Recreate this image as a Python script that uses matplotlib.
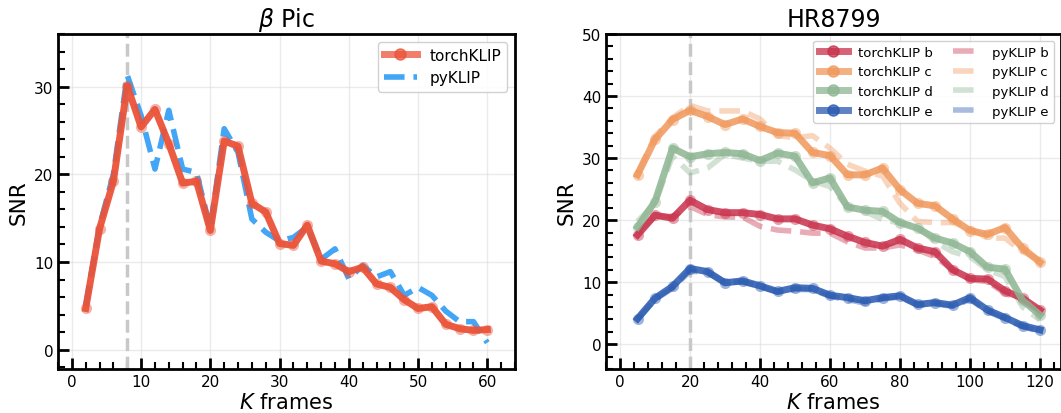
import numpy as np
import matplotlib
matplotlib.use('Agg')
import matplotlib.pyplot as plt
from matplotlib.ticker import AutoMinorLocator

# ==========================================
# DATA
# ==========================================
# beta Pic: K frames 2..60
k_pic = list(range(2, 61, 2))
pic_torch = [4.7, 13.8, 19.2, 30.1, 25.4, 27.4, 23.5, 19.0, 19.2, 13.6,
             23.8, 23.2, 16.7, 15.7, 12.1, 11.9, 14.2, 10.1, 9.8, 8.9,
             9.4, 7.5, 7.1, 5.7, 4.7, 4.9, 2.9, 2.4, 2.2, 2.3]
pic_py = [5.0, 14.1, 20.0, 31.3, 26.7, 20.6, 27.3, 20.6, 20.2, 13.8,
          25.2, 22.5, 14.9, 13.4, 12.4, 12.8, 14.0, 10.3, 11.5, 8.1,
          9.6, 8.3, 8.9, 6.2, 7.1, 6.2, 4.4, 3.2, 3.2, 0.8]

# HR8799: K frames 5..120
k_hr = list(range(5, 121, 5))
torch_b = [17.6, 20.8, 20.3, 23.2, 21.7, 21.2, 21.2, 20.9, 20.2, 20.2, 19.2, 18.6,
           17.4, 16.4, 15.8, 16.9, 15.5, 14.9, 12.0, 10.6, 10.5, 8.6, 7.4, 5.5]
py_b = [17.9, 20.6, 20.6, 22.2, 20.9, 20.5, 20.5, 19.0, 18.4, 18.2, 17.9, 17.9,
        16.5, 15.5, 15.5, 16.0, 15.2, 14.1, 12.0, 10.4, 10.1, 8.2, 7.1, 5.2]
torch_c = [27.3, 33.0, 36.2, 37.7, 36.7, 35.4, 36.3, 35.1, 34.1, 34.0, 30.9, 30.4,
           27.3, 27.3, 28.4, 24.9, 22.7, 22.3, 20.2, 18.3, 17.7, 18.8, 15.5, 13.2]
py_c = [27.6, 33.5, 36.5, 38.5, 37.6, 37.6, 37.6, 36.3, 33.6, 33.3, 33.6, 31.6,
        29.0, 27.9, 27.1, 22.7, 19.8, 19.6, 19.6, 18.7, 17.1, 17.1, 14.9, 13.6]
torch_d = [18.9, 23.0, 31.6, 30.2, 30.7, 30.9, 30.7, 29.6, 30.8, 30.3, 26.0, 26.8,
           22.1, 21.6, 21.4, 19.6, 18.7, 17.1, 16.3, 14.9, 12.4, 12.1, 7.1, 4.7]
py_d = [19.8, 22.7, 30.3, 27.6, 28.4, 30.6, 30.0, 29.5, 29.5, 28.1, 26.3, 25.4,
        22.2, 21.4, 20.1, 19.5, 19.0, 16.5, 14.9, 14.1, 12.0, 10.9, 6.0, 3.9]
torch_e = [4.1, 7.4, 9.3, 12.2, 11.7, 9.9, 10.2, 9.4, 8.5, 9.1, 9.0, 7.9,
           7.5, 7.0, 7.5, 7.8, 6.4, 6.7, 6.3, 7.5, 5.5, 4.3, 3.0, 2.3]
py_e = [4.0, 7.2, 9.0, 11.8, 11.5, 10.0, 10.0, 9.3, 8.4, 8.8, 8.8, 7.7,
        7.2, 6.6, 7.3, 7.6, 6.3, 6.5, 6.1, 7.2, 5.3, 4.1, 2.8, 2.1]

planets = ['b', 'c', 'd', 'e']
torch_hr = [torch_b, torch_c, torch_d, torch_e]
py_hr = [py_b, py_c, py_d, py_e]
planet_colors = ['#c8304b', '#f0975a', '#8db592', '#2858b0']

# ==========================================
# PLOT
# ==========================================
fig = plt.figure(figsize=(10.61, 4.14), dpi=100)
ax1 = fig.add_axes([58 / 1061, 1 - 370 / 414, 457 / 1061, 335 / 414])
ax2 = fig.add_axes([606 / 1061, 1 - 370 / 414, 455 / 1061, 335 / 414])


def style_axis(ax):
    for s in ax.spines.values():
        s.set_linewidth(2)
    ax.xaxis.set_minor_locator(AutoMinorLocator(5))
    ax.yaxis.set_minor_locator(AutoMinorLocator(5))
    ax.tick_params(which='major', direction='in', length=8, width=2, labelsize=11,
                   top=False, right=False)
    ax.tick_params(which='minor', direction='in', length=5, width=1.5,
                   top=False, right=False)
    ax.grid(True, which='major', color='#dddddd', alpha=0.6, lw=1)
    ax.set_axisbelow(True)


def marked_line(ax, x, y, col, label, alpha=0.9):
    # faint marker halos under a solid thick line
    ax.plot(x, y, 'o', ms=8, color=col, alpha=0.45, mec='none', zorder=3)
    return ax.plot(x, y, '-', color=col, lw=5, alpha=alpha, zorder=4,
                   marker='o', ms=8, markevery=[], label=label)[0]


def fix_legend_markers(leg, n):
    # one faint marker in the middle of each torchKLIP handle
    for lh in leg.get_lines()[:n]:
        lh.set_markevery([1])
        lh.set_alpha(0.75)


# beta Pic panel
ax1.axvline(8, color='#c8c8c8', ls='--', lw=2.5, zorder=1)
marked_line(ax1, k_pic, pic_torch, '#ea5339', 'torchKLIP', alpha=0.95)
ax1.plot(k_pic, pic_py, '--', color='#42a5f5', lw=4, zorder=2, label='pyKLIP')
ax1.set_xlim(-2, 64)
ax1.set_ylim(-2.2, 36)
ax1.set_xticks([0, 10, 20, 30, 40, 50, 60])
ax1.set_yticks([0, 10, 20, 30])
ax1.set_title(r'$\beta$ Pic', fontsize=17)
ax1.set_xlabel(r'$K$ frames', fontsize=15, labelpad=2)
ax1.set_ylabel('SNR', fontsize=15.5)
style_axis(ax1)
leg1 = ax1.legend(loc='upper right', fontsize=11, handlelength=2.2,
                  numpoints=1, framealpha=0.9)
fix_legend_markers(leg1, 1)

# HR8799 panel
ax2.axvline(20, color='#c8c8c8', ls='--', lw=2.5, zorder=1)
torch_handles = []
py_handles = []
for p, t_vals, p_vals, col in zip(planets, torch_hr, py_hr, planet_colors):
    h1 = marked_line(ax2, k_hr, t_vals, col, f'torchKLIP {p}', alpha=0.85)
    h2, = ax2.plot(k_hr, p_vals, '--', color=col, lw=4, alpha=0.4, zorder=2,
                   label=f'pyKLIP {p}')
    torch_handles.append(h1)
    py_handles.append(h2)
ax2.set_xlim(-4, 126)
ax2.set_ylim(-4, 50)
ax2.set_xticks([0, 20, 40, 60, 80, 100, 120])
ax2.set_yticks([0, 10, 20, 30, 40, 50])
ax2.set_title('HR8799', fontsize=17)
ax2.set_xlabel(r'$K$ frames', fontsize=15, labelpad=2)
ax2.set_ylabel('SNR', fontsize=15.5)
style_axis(ax2)
leg2 = ax2.legend(handles=torch_handles + py_handles, loc='upper right', ncol=2,
                  fontsize=9.5, handlelength=2.2, columnspacing=1.5,
                  numpoints=1, framealpha=0.9)
fix_legend_markers(leg2, 4)

plt.savefig('out.png', dpi=100)
plt.close()
